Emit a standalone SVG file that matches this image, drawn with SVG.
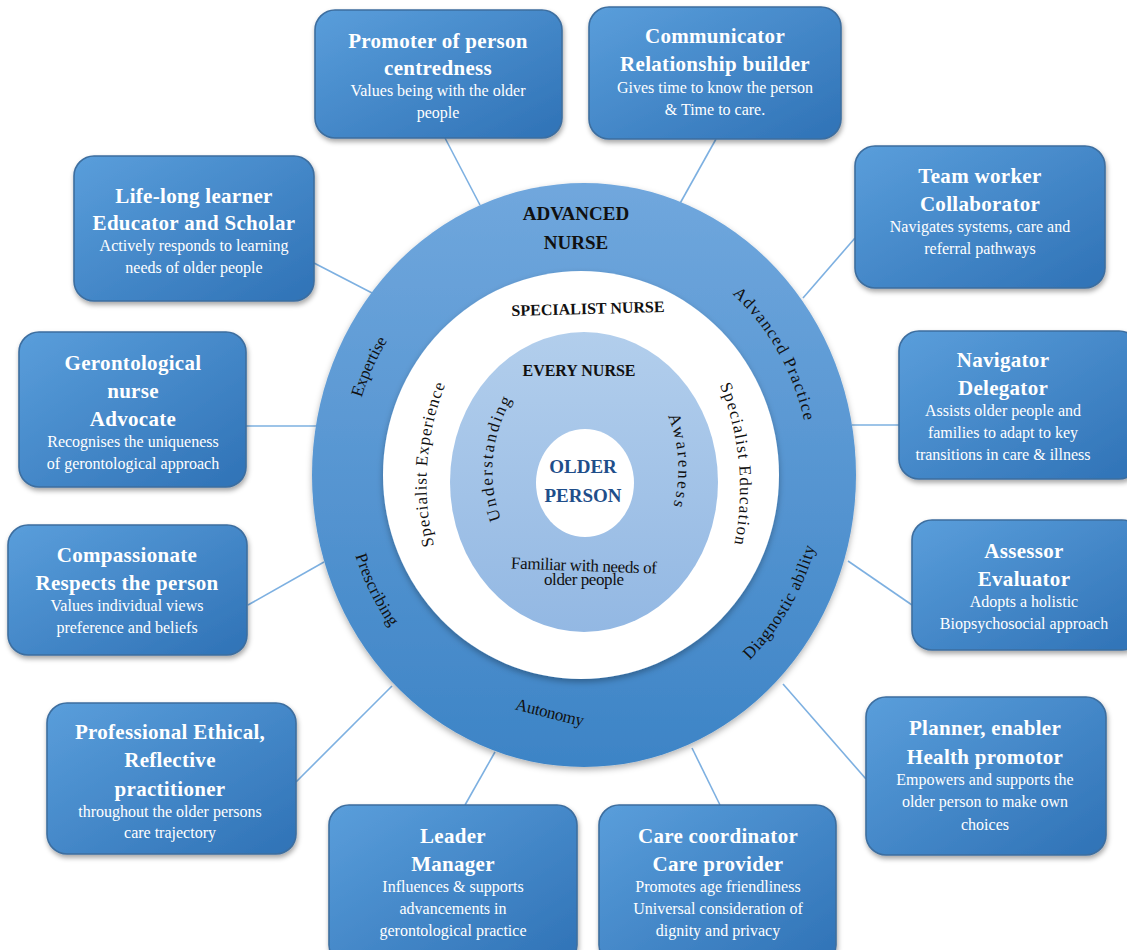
<svg xmlns="http://www.w3.org/2000/svg" width="1127" height="950" viewBox="0 0 1127 950">
<defs>
<linearGradient id="boxGrad" x1="0" y1="0" x2="1" y2="1">
<stop offset="0" stop-color="#5a9edb"/>
<stop offset="1" stop-color="#2f72b6"/>
</linearGradient>
<linearGradient id="ringGrad" x1="0" y1="0" x2="0" y2="1">
<stop offset="0" stop-color="#70a7dd"/>
<stop offset="1" stop-color="#3d84c6"/>
</linearGradient>
<linearGradient id="lightGrad" x1="0" y1="0" x2="0" y2="1">
<stop offset="0" stop-color="#b2ceec"/>
<stop offset="1" stop-color="#93b8e3"/>
</linearGradient>
<filter id="shadow" x="-10%" y="-10%" width="125%" height="130%">
<feDropShadow dx="1" dy="3" stdDeviation="2.5" flood-color="#000" flood-opacity="0.35"/>
</filter>
<filter id="shadowSoft" x="-10%" y="-10%" width="125%" height="130%">
<feDropShadow dx="0" dy="3" stdDeviation="3" flood-color="#000" flood-opacity="0.3"/>
</filter>
<path id="pExpertise" d="M 357 535 A 234 248 0 0 1 488.8 248.3"/>
<path id="pAdvPractice" d="M 655.7 247.4 A 226 240 0 0 1 807.5 510.5"/>
<path id="pPrescribing" d="M 348.3 422 A 241 255 0 0 0 493.7 711.4"/>
<path id="pDiagnostic" d="M 658.5 717.5 A 241 255 0 0 0 822.7 439.5"/>
<path id="pSpecExp" d="M 477.1 638.7 A 265 265 0 0 1 500.9 298.8"/>
<path id="pSpecEdu" d="M 658.4 293.3 A 275 275 0 0 1 691.2 645.3"/>
<path id="pUnderstanding" d="M 542 577.1 A 139 139 0 0 1 561.9 350.2"/>
<path id="pAwareness" d="M 631.6 364.6 A 139 139 0 0 1 643.3 560.9"/>
</defs>
<style>
.box{fill:url(#boxGrad);stroke:#3d6e9f;stroke-width:1.6;filter:url(#shadow);}
.t{font-family:"Liberation Serif",serif;font-weight:bold;font-size:21px;fill:#fff;text-anchor:middle;letter-spacing:0.3px;}
.s{font-family:"Liberation Serif",serif;font-size:16px;fill:#fff;text-anchor:middle;}
.conn{stroke:#7db0e1;stroke-width:1.6;fill:none;}
.ring{font-family:"Liberation Serif",serif;font-size:17px;fill:#111;text-anchor:middle;}
.hd{font-family:"Liberation Serif",serif;font-weight:bold;fill:#111;text-anchor:middle;}
.op{font-family:"Liberation Serif",serif;font-weight:bold;font-size:19px;fill:#1f4e8a;text-anchor:middle;}
</style>
<rect width="1127" height="950" fill="#fff"/>

<g id="connectors">
<line class="conn" x1="445" y1="138" x2="480" y2="205"/>
<line class="conn" x1="716" y1="139" x2="678" y2="207"/>
<line class="conn" x1="314" y1="263" x2="374" y2="294"/>
<line class="conn" x1="855" y1="238" x2="803" y2="298"/>
<line class="conn" x1="246" y1="426" x2="316" y2="426"/>
<line class="conn" x1="852" y1="425" x2="899" y2="425"/>
<line class="conn" x1="248" y1="605" x2="324" y2="562"/>
<line class="conn" x1="848" y1="561" x2="912" y2="605"/>
<line class="conn" x1="296" y1="782" x2="392" y2="686"/>
<line class="conn" x1="866" y1="779" x2="783" y2="684"/>
<line class="conn" x1="465" y1="805" x2="495" y2="752"/>
<line class="conn" x1="720" y1="805" x2="692" y2="748"/>
</g>

<g id="center">
<ellipse cx="584" cy="475" rx="272" ry="292" fill="url(#ringGrad)" filter="url(#shadowSoft)"/>
<ellipse cx="581" cy="475" rx="198" ry="204" fill="#fff" filter="url(#shadowSoft)"/>
<ellipse cx="584" cy="482" rx="134" ry="150" fill="url(#lightGrad)"/>
<ellipse cx="585" cy="483" rx="49" ry="54" fill="#fff"/>
<text class="hd" x="576" y="220" font-size="19">ADVANCED</text>
<text class="hd" x="576" y="249" font-size="19">NURSE</text>
<text class="hd" x="588" y="314" font-size="16" transform="rotate(-1.5 588 309)">SPECIALIST NURSE</text>
<text class="hd" x="579" y="376" font-size="16">EVERY NURSE</text>
<text class="op" x="583" y="473">OLDER</text>
<text class="op" x="583" y="502">PERSON</text>
<text class="ring" font-size="17"><textPath href="#pExpertise" startOffset="50%" textLength="63">Expertise</textPath></text>
<text class="ring" font-size="18"><textPath href="#pAdvPractice" startOffset="50%" textLength="148">Advanced Practice</textPath></text>
<text class="ring" font-size="18"><textPath href="#pPrescribing" startOffset="50%" textLength="80">Prescribing</textPath></text>
<text class="ring" font-size="18"><textPath href="#pDiagnostic" startOffset="50%" textLength="132">Diagnostic ability</textPath></text>
<text class="ring" x="550" y="718" font-size="17" textLength="70" transform="rotate(14 550 712)">Autonomy</text>
<text class="ring" font-size="19"><textPath href="#pSpecExp" startOffset="50%" textLength="164">Specialist Experience</textPath></text>
<text class="ring" font-size="19"><textPath href="#pSpecEdu" startOffset="50%" textLength="162">Specialist Education</textPath></text>
<text class="ring" font-size="21"><textPath href="#pUnderstanding" startOffset="50%" textLength="124">Understanding</textPath></text>
<text class="ring" font-size="21"><textPath href="#pAwareness" startOffset="50%" textLength="92">Awareness</textPath></text>
<text class="ring" x="584" y="571" font-size="16" textLength="146" transform="rotate(2 584 566)">Familiar with needs of</text>
<text class="ring" x="584" y="585" font-size="16" textLength="80">older people</text>
</g>

<g id="n1">
<rect class="box" x="315" y="10" width="247" height="128" rx="20"/>
<text class="t" x="438" y="48">Promoter of person</text>
<text class="t" x="438" y="75">centredness</text>
<text class="s" x="438" y="96">Values being with the older</text>
<text class="s" x="438" y="118">people</text>
</g>
<g id="n2">
<rect class="box" x="589" y="7" width="252" height="132" rx="20"/>
<text class="t" x="715" y="43">Communicator</text>
<text class="t" x="715" y="71">Relationship builder</text>
<text class="s" x="715" y="93">Gives time to know the person</text>
<text class="s" x="715" y="115">&amp; Time to care.</text>
</g>
<g id="n3">
<rect class="box" x="74" y="156" width="240" height="145" rx="20"/>
<text class="t" x="194" y="203">Life-long learner</text>
<text class="t" x="194" y="230">Educator and Scholar</text>
<text class="s" x="194" y="251">Actively responds to learning</text>
<text class="s" x="194" y="273">needs of older people</text>
</g>
<g id="n4">
<rect class="box" x="855" y="146" width="250" height="142" rx="20"/>
<text class="t" x="980" y="183">Team worker</text>
<text class="t" x="980" y="211">Collaborator</text>
<text class="s" x="980" y="232">Navigates systems, care and</text>
<text class="s" x="980" y="254">referral pathways</text>
</g>
<g id="n5">
<rect class="box" x="19" y="332" width="227" height="155" rx="20"/>
<text class="t" x="133" y="370">Gerontological</text>
<text class="t" x="133" y="398">nurse</text>
<text class="t" x="133" y="426">Advocate</text>
<text class="s" x="133" y="447">Recognises the uniqueness</text>
<text class="s" x="133" y="469">of gerontological approach</text>
</g>
<g id="n6">
<rect class="box" x="899" y="331" width="240" height="148" rx="20"/>
<text class="t" x="1003" y="367">Navigator</text>
<text class="t" x="1003" y="395">Delegator</text>
<text class="s" x="1003" y="416">Assists older people and</text>
<text class="s" x="1003" y="438">families to adapt to key</text>
<text class="s" x="1003" y="460">transitions in care &amp; illness</text>
</g>
<g id="n7">
<rect class="box" x="8" y="525" width="239" height="130" rx="20"/>
<text class="t" x="127" y="562">Compassionate</text>
<text class="t" x="127" y="590">Respects the person</text>
<text class="s" x="127" y="611">Values individual views</text>
<text class="s" x="127" y="633">preference and beliefs</text>
</g>
<g id="n8">
<rect class="box" x="912" y="520" width="230" height="130" rx="20"/>
<text class="t" x="1024" y="558">Assessor</text>
<text class="t" x="1024" y="586">Evaluator</text>
<text class="s" x="1024" y="607">Adopts a holistic</text>
<text class="s" x="1024" y="629">Biopsychosocial approach</text>
</g>
<g id="n9">
<rect class="box" x="47" y="703" width="249" height="151" rx="20"/>
<text class="t" x="170" y="739">Professional Ethical,</text>
<text class="t" x="170" y="767">Reflective</text>
<text class="t" x="170" y="796">practitioner</text>
<text class="s" x="170" y="817">throughout the older persons</text>
<text class="s" x="170" y="838">care trajectory</text>
</g>
<g id="n10">
<rect class="box" x="866" y="697" width="240" height="158" rx="20"/>
<text class="t" x="985" y="735">Planner, enabler</text>
<text class="t" x="985" y="764">Health promotor</text>
<text class="s" x="985" y="785">Empowers and supports the</text>
<text class="s" x="985" y="807">older person to make own</text>
<text class="s" x="985" y="830">choices</text>
</g>
<g id="n11">
<rect class="box" x="329" y="805" width="248" height="160" rx="20"/>
<text class="t" x="453" y="843">Leader</text>
<text class="t" x="453" y="871">Manager</text>
<text class="s" x="453" y="892">Influences &amp; supports</text>
<text class="s" x="453" y="914">advancements in</text>
<text class="s" x="453" y="936">gerontological practice</text>
</g>
<g id="n12">
<rect class="box" x="599" y="805" width="237" height="160" rx="20"/>
<text class="t" x="718" y="843">Care coordinator</text>
<text class="t" x="718" y="871">Care provider</text>
<text class="s" x="718" y="892">Promotes age friendliness</text>
<text class="s" x="718" y="914">Universal consideration of</text>
<text class="s" x="718" y="936">dignity and privacy</text>
</g>
</svg>
